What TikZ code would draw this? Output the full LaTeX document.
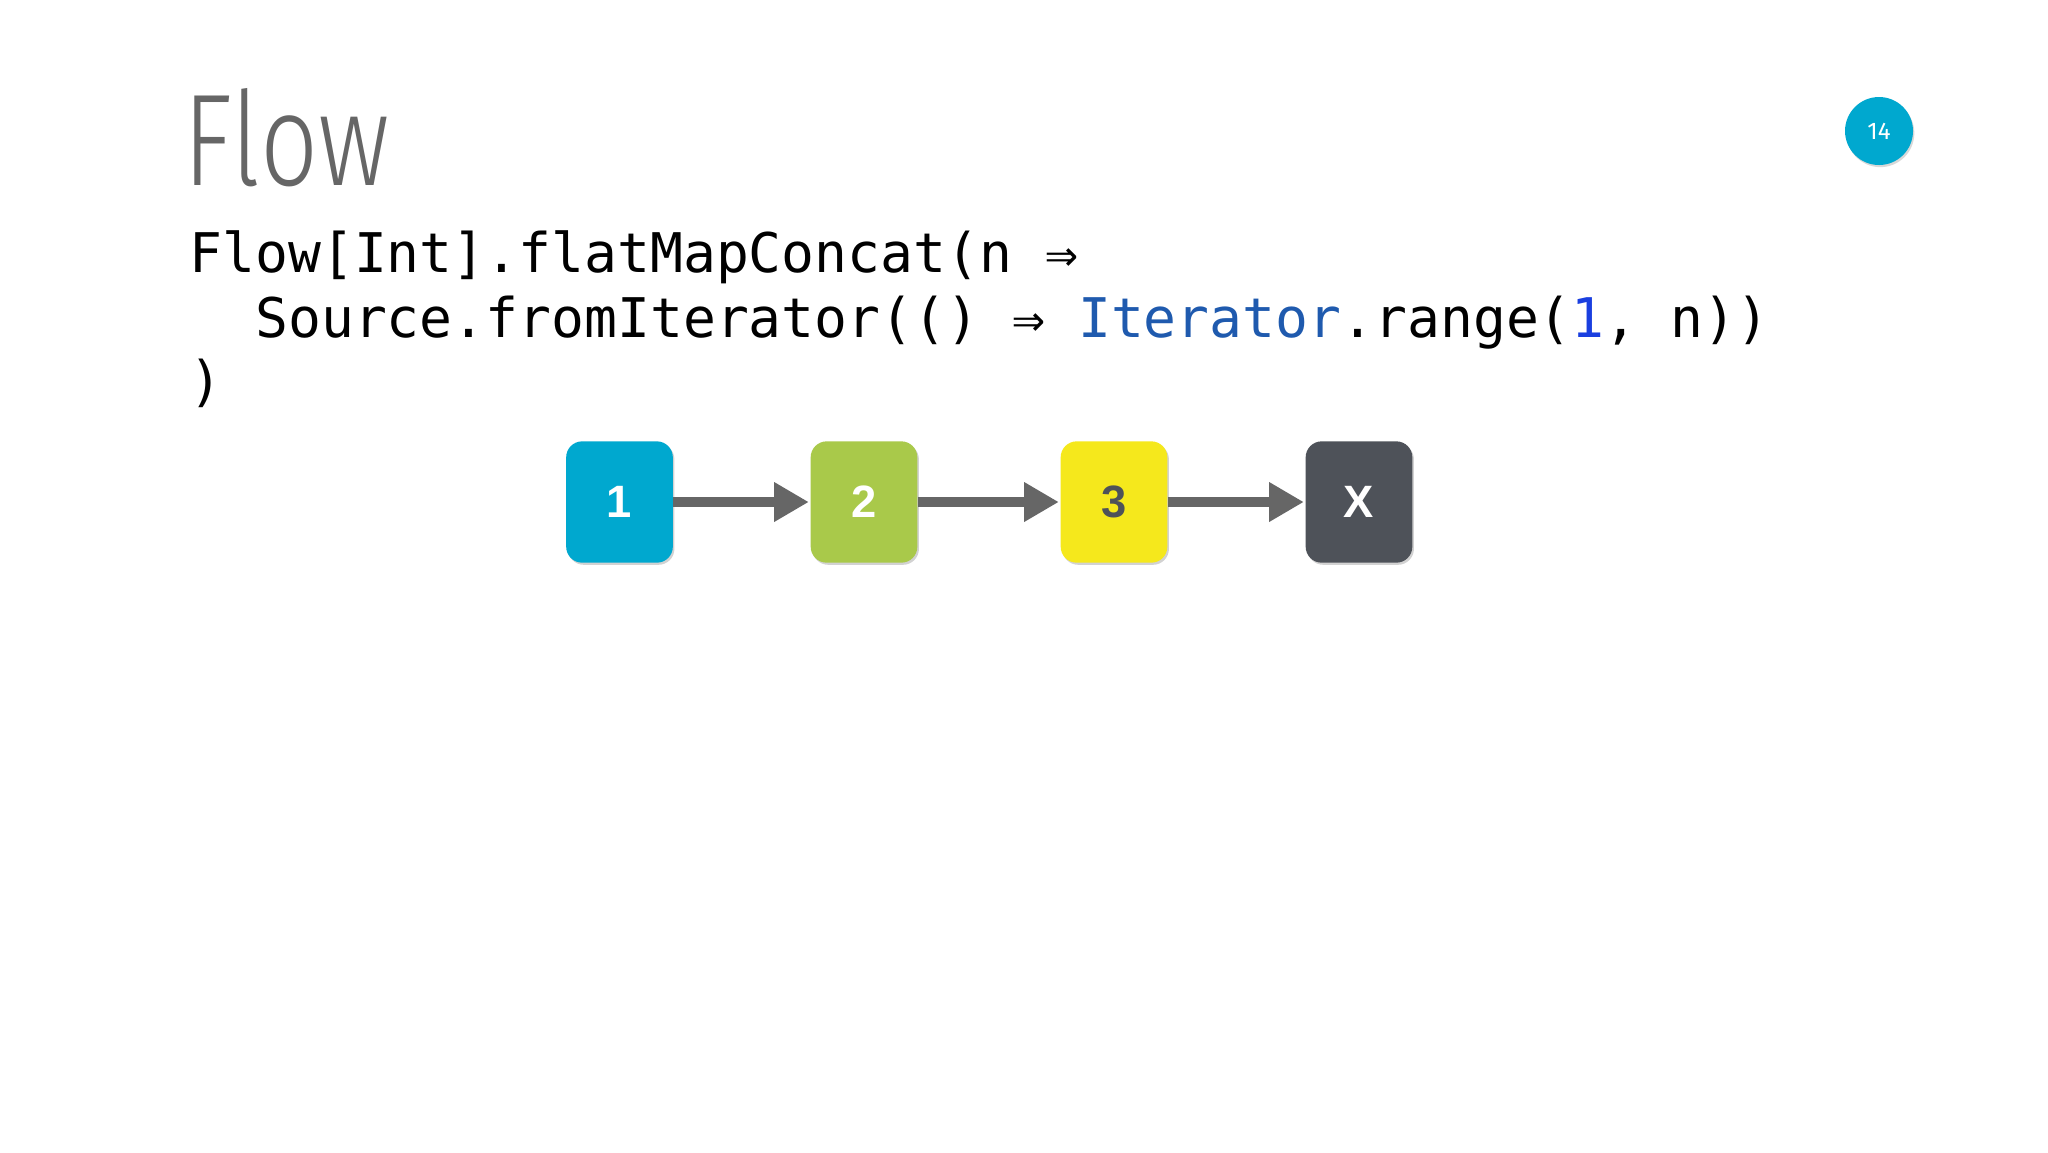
\documentclass[tikz,border=0pt]{standalone}
\usepackage{fontspec}
\setmainfont{Fira Sans}
\newfontfamily\titlefont[FakeStretch=0.78]{Fira Sans Light}
\newfontfamily\codefont{DejaVu Sans Mono}
\newfontfamily\boxfont{Liberation Sans}
\usetikzlibrary{arrows.meta,shadows}
\definecolor{cblue}{HTML}{00A8CF}
\definecolor{cgreen}{HTML}{A9C94A}
\definecolor{cyellow}{HTML}{F5E81C}
\definecolor{cdark}{HTML}{4E5259}
\definecolor{arr}{HTML}{666666}
\definecolor{kw}{HTML}{1F5AAE}
\definecolor{num}{HTML}{1A3FE0}
\tikzset{
  sq/.style={rounded corners=6pt, minimum width=40pt, minimum height=45.5pt, inner sep=0pt,
    font=\boxfont\bfseries\fontsize{17}{17}\selectfont, text=white,
    drop shadow={shadow xshift=0.6pt, shadow yshift=-0.8pt, opacity=0.35}},
  link/.style={line width=4pt, draw=arr, -{Triangle[length=13pt,width=14pt]}, shorten >=0.5pt}
}
\begin{document}
\begin{tikzpicture}[x=0.375pt,y=-0.375pt]
\useasboundingbox (0,0) rectangle (2048,1152);
\fill[white] (0,0) rectangle (2048,1152);
\node[anchor=base west, inner sep=0pt, text=arr, font=\titlefont\fontsize{49}{49}\selectfont] (title) at (183,185) {Flow};
\node[circle, fill=cblue, minimum size=25.5pt, inner sep=0pt, text=white, font=\fontsize{9}{9}\selectfont,
  drop shadow={shadow xshift=0.5pt, shadow yshift=-0.8pt, opacity=0.3}] (badge) at (1879,131) {14};
\begin{scope}[every node/.style={anchor=base west, inner sep=0pt, font=\codefont\fontsize{20.5}{20.5}\selectfont}]
\node (l1) at (189,272) {Flow[Int].flatMapConcat(n ⇒};
\node (l2) at (189,337) {\ \ Source.fromIterator(() ⇒ \textcolor{kw}{Iterator}.range(\textcolor{num}{1}, n))};
\node (l3) at (189,400) {)};
\end{scope}
\node[sq, fill=cblue] (b1) at (619.5,502) {1};
\node[sq, fill=cgreen] (b2) at (864,502) {2};
\node[sq, fill=cyellow, text=cdark] (b3) at (1114,502) {3};
\node[sq, fill=cdark] (b4) at (1359,502) {X};
\draw[link] (b1.east) -- (b2.west);
\draw[link] (b2.east) -- (b3.west);
\draw[link] (b3.east) -- (b4.west);
\end{tikzpicture}
\end{document}
